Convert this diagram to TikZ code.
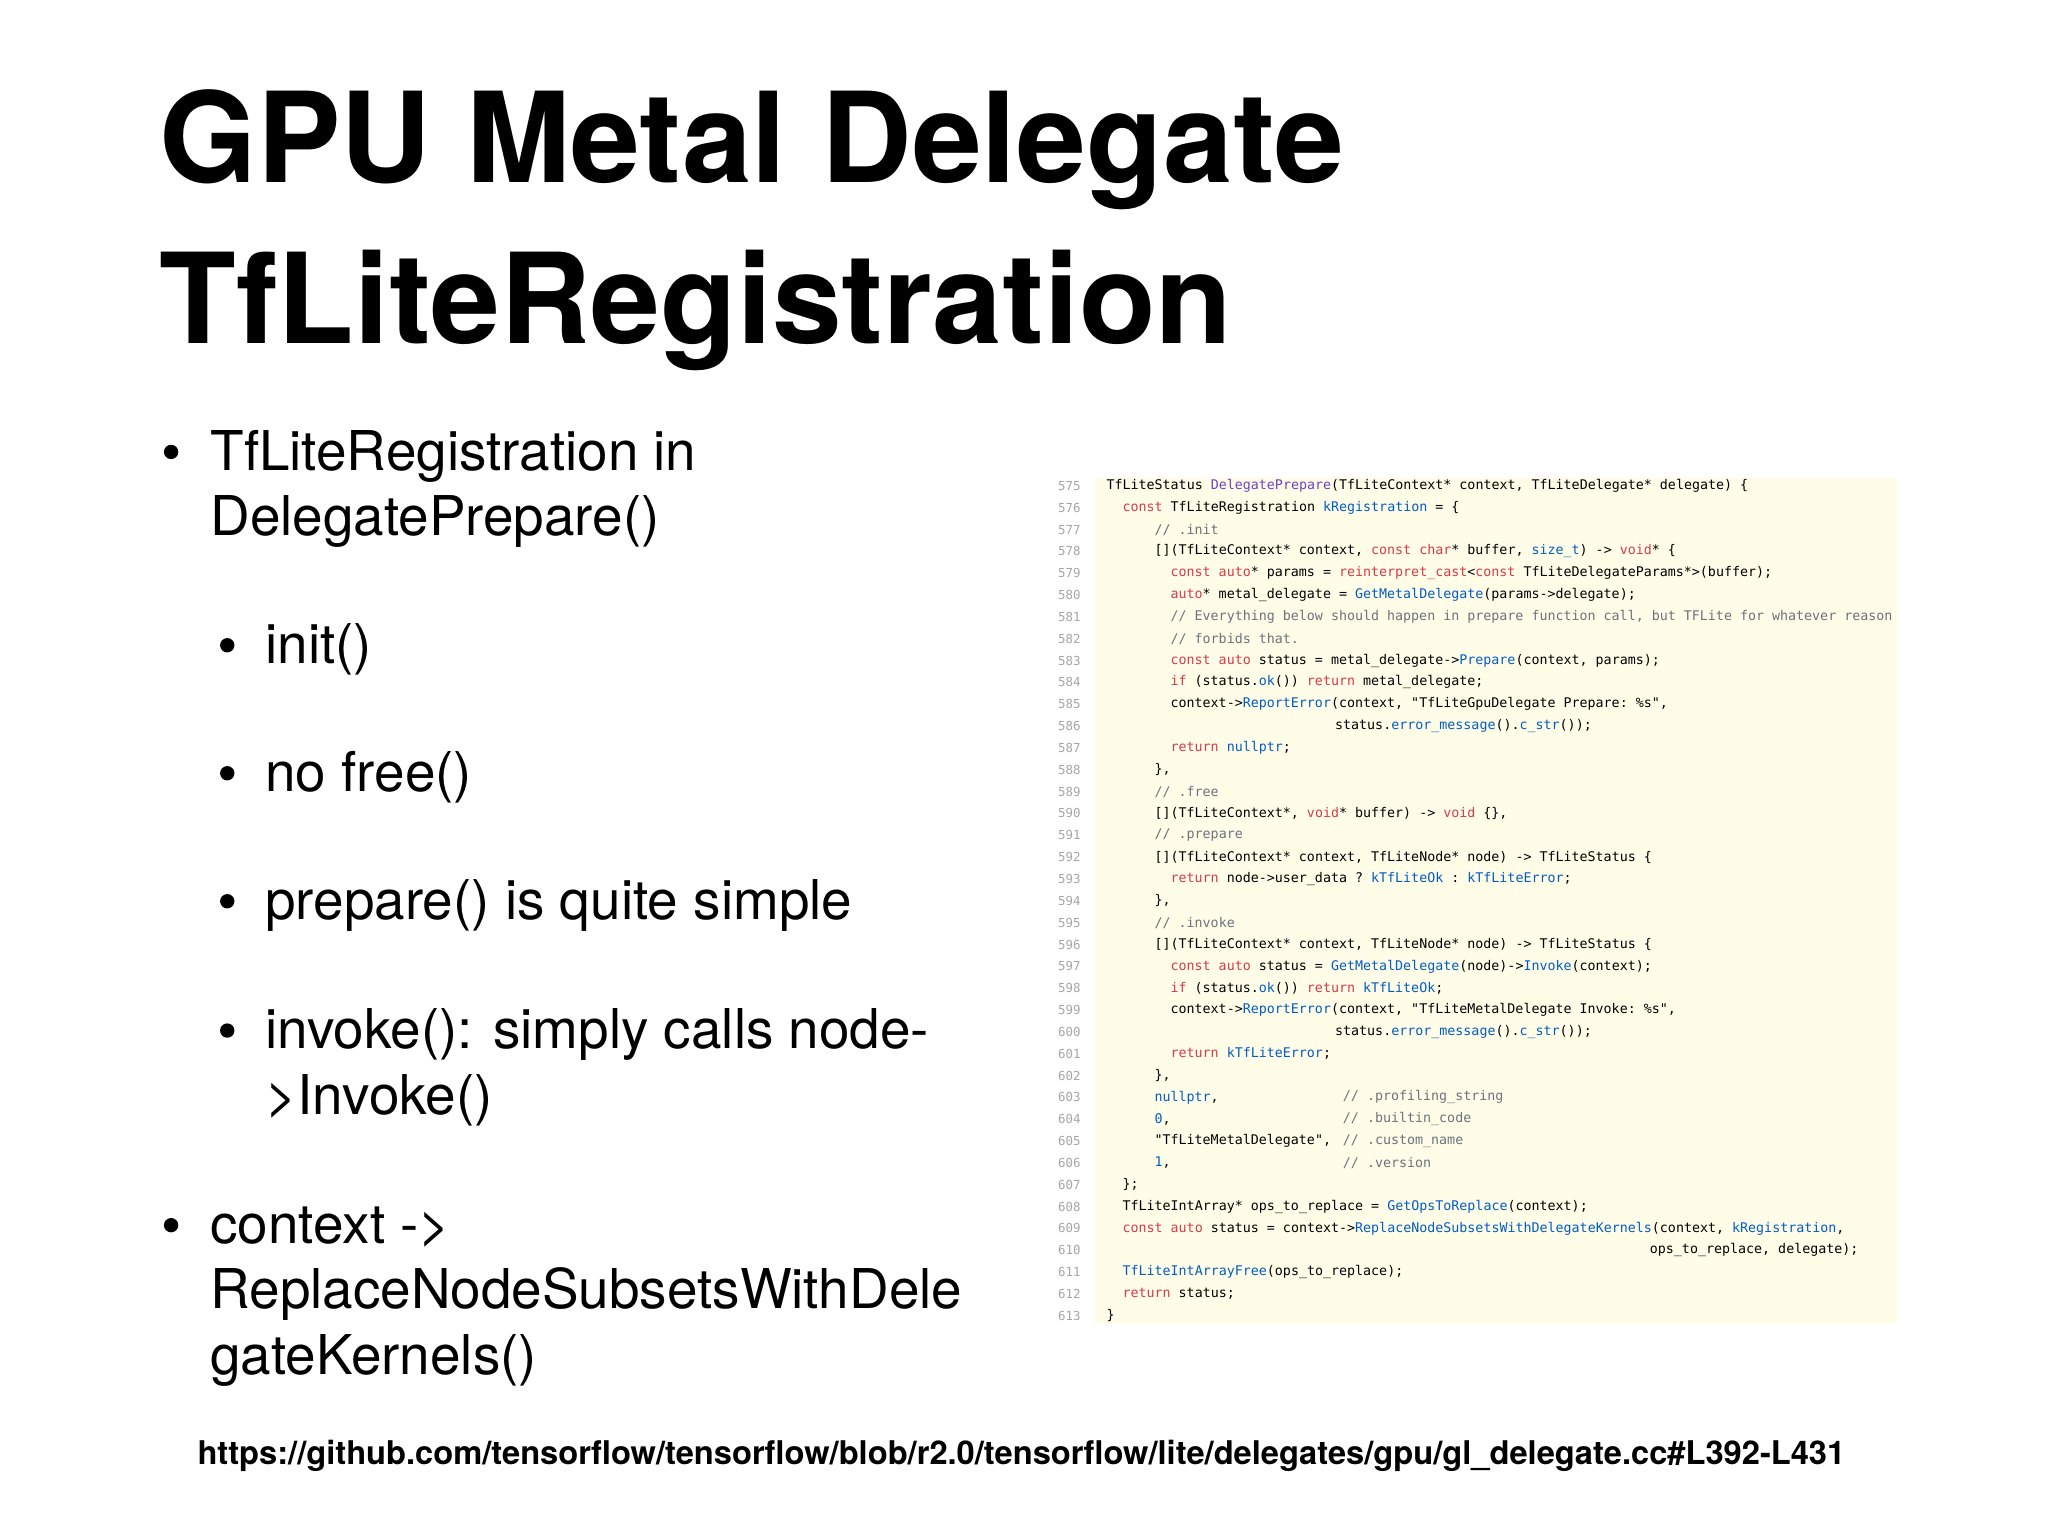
\documentclass[tikz,border=0pt]{standalone}
\usepackage{fontspec}
\setmainfont{TeX Gyre Heros}
\setmonofont{DejaVu Sans Mono}
\begin{document}
\definecolor{kwc}{HTML}{D73A49}
\definecolor{fnc}{HTML}{005CC5}
\definecolor{pfc}{HTML}{6F42C1}
\definecolor{cmc}{HTML}{6A737D}
\definecolor{bgc}{HTML}{FFFDE8}
\newcommand{\kw}[1]{\textcolor{kwc}{#1}}
\newcommand{\fn}[1]{\textcolor{fnc}{#1}}
\newcommand{\pf}[1]{\textcolor{pfc}{#1}}
\newcommand{\cm}[1]{\textcolor{cmc}{#1}}
\newcommand{\codeline}[3]{\node[cl] (c#1) at ({847+6.13*#2},{372+16.72*(#1-575)}) {#3};}
\newcommand{\cmtat}[2]{\node[cl] (m#1) at (1028,{372+16.72*(#1-575)}) {\cm{#2}};}
\begin{tikzpicture}[x=1pt,y=-1pt,
  ttl/.style={anchor=base west,inner sep=0,font=\bfseries\fontsize{96}{110}\selectfont},
  bl/.style={anchor=base west,inner sep=0,font=\fontsize{42}{50}\selectfont},
  dot/.style={circle,fill=black,inner sep=0,minimum size=11pt},
  cl/.style={anchor=west,inner sep=0,font=\fontsize{10.2}{12}\ttfamily},
  ln/.style={anchor=west,inner sep=0,font=\fontsize{9.5}{12}\ttfamily,text=black!35}]
\useasboundingbox[fill=white] (0,0) rectangle (1568,1176);
\node[ttl] (t1) at (122,140) {GPU Metal Delegate};
\node[ttl] (t2) at (122,263) {TfLiteRegistration};
% bullets
\node[dot] (d1) at (131,346) {};
\node[bl] (b1) at (161,360) {TfLiteRegistration in};
\node[bl] (b1b) at (161,410) {DelegatePrepare()};
\node[dot] (d2) at (174,494) {};
\node[bl] (b2) at (203,508) {init()};
\node[dot] (d3) at (174,592) {};
\node[bl] (b3) at (203,606) {no free()};
\node[dot] (d4) at (174,690) {};
\node[bl] (b4) at (203,704) {prepare() is quite simple};
\node[dot] (d5) at (174,789) {};
\node[bl] (b5) at (203,803) {invoke(): simply calls node-};
\node[bl] (b5b) at (203,853) {>Invoke()};
\node[dot] (d6) at (131,938) {};
\node[bl] (b6) at (161,952) {context ->};
\node[bl] (b6b) at (161,1002) {ReplaceNodeSubsetsWithDele};
\node[bl] (b6c) at (161,1052) {gateKernels()};
% code panel
\fill[bgc] (838,366) rectangle (1452,1014);
\foreach \n [count=\i from 0] in {575,...,613}
  \node[ln] (n\n) at (810,{372+16.72*\i}) {\n};
\codeline{575}{0}{TfLiteStatus \pf{DelegatePrepare}(TfLiteContext* context, TfLiteDelegate* delegate) \{}
\codeline{576}{2}{\kw{const} TfLiteRegistration \fn{kRegistration} = \{}
\codeline{577}{6}{\cm{// .init}}
\codeline{578}{6}{[](TfLiteContext* context, \kw{const} \kw{char}* buffer, \fn{size\_t}) -> \kw{void}* \{}
\codeline{579}{8}{\kw{const} \kw{auto}* params = \kw{reinterpret\_cast}<\kw{const} TfLiteDelegateParams*>(buffer);}
\codeline{580}{8}{\kw{auto}* metal\_delegate = \fn{GetMetalDelegate}(params->delegate);}
\codeline{581}{8}{\cm{// Everything below should happen in prepare function call, but TFLite for whatever reason}}
\codeline{582}{8}{\cm{// forbids that.}}
\codeline{583}{8}{\kw{const} \kw{auto} status = metal\_delegate->\fn{Prepare}(context, params);}
\codeline{584}{8}{\kw{if} (status.\fn{ok}()) \kw{return} metal\_delegate;}
\codeline{585}{8}{context->\fn{ReportError}(context, "TfLiteGpuDelegate Prepare: \%s",}
\node[cl] (c586) at (1022,{372+16.72*11}) {status.\fn{error\_message}().\fn{c\_str}());};
\codeline{587}{8}{\kw{return} \fn{nullptr};}
\codeline{588}{6}{\},}
\codeline{589}{6}{\cm{// .free}}
\codeline{590}{6}{[](TfLiteContext*, \kw{void}* buffer) -> \kw{void} \{\},}
\codeline{591}{6}{\cm{// .prepare}}
\codeline{592}{6}{[](TfLiteContext* context, TfLiteNode* node) -> TfLiteStatus \{}
\codeline{593}{8}{\kw{return} node->user\_data ? \fn{kTfLiteOk} : \fn{kTfLiteError};}
\codeline{594}{6}{\},}
\codeline{595}{6}{\cm{// .invoke}}
\codeline{596}{6}{[](TfLiteContext* context, TfLiteNode* node) -> TfLiteStatus \{}
\codeline{597}{8}{\kw{const} \kw{auto} status = \fn{GetMetalDelegate}(node)->\fn{Invoke}(context);}
\codeline{598}{8}{\kw{if} (status.\fn{ok}()) \kw{return} \fn{kTfLiteOk};}
\codeline{599}{8}{context->\fn{ReportError}(context, "TfLiteMetalDelegate Invoke: \%s",}
\node[cl] (c600) at (1022,{372+16.72*25}) {status.\fn{error\_message}().\fn{c\_str}());};
\codeline{601}{8}{\kw{return} \fn{kTfLiteError};}
\codeline{602}{6}{\},}
\codeline{603}{6}{\fn{nullptr},}
\cmtat{603}{// .profiling\_string}
\codeline{604}{6}{\fn{0},}
\cmtat{604}{// .builtin\_code}
\codeline{605}{6}{"TfLiteMetalDelegate",}
\cmtat{605}{// .custom\_name}
\codeline{606}{6}{\fn{1},}
\cmtat{606}{// .version}
\codeline{607}{2}{\};}
\codeline{608}{2}{TfLiteIntArray* ops\_to\_replace = \fn{GetOpsToReplace}(context);}
\codeline{609}{2}{\kw{const} \kw{auto} status = context->\fn{ReplaceNodeSubsetsWithDelegateKernels}(context, \fn{kRegistration},}
\node[cl] (c610) at (1263,{372+16.72*35}) {ops\_to\_replace, delegate);};
\codeline{611}{2}{\fn{TfLiteIntArrayFree}(ops\_to\_replace);}
\codeline{612}{2}{\kw{return} status;}
\codeline{613}{0}{\}}
\node[anchor=base,inner sep=0,font=\bfseries\fontsize{25}{28}\selectfont] (url) at (782,1121)
  {https://github.com/tensorflow/tensorflow/blob/r2.0/tensorflow/lite/delegates/gpu/gl\_delegate.cc\#L392-L431};
\end{tikzpicture}
\end{document}
